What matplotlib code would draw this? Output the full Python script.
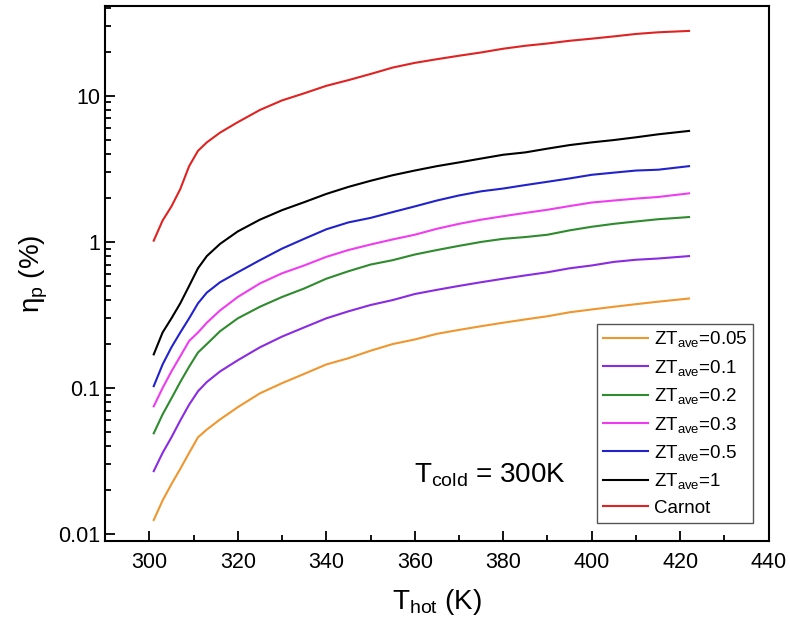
import matplotlib
matplotlib.use('Agg')
import matplotlib.pyplot as plt
from matplotlib.ticker import MultipleLocator, LogLocator, FuncFormatter, NullFormatter

plt.rcParams['font.family'] = ['Liberation Sans', 'DejaVu Sans']
plt.rcParams['mathtext.default'] = 'regular'

# hot side temperature (K)
t_hot = [301, 303, 305, 307, 309, 311, 313, 316, 320, 325, 330, 335, 340, 345, 350,
         355, 360, 365, 370, 375, 380, 385, 390, 395, 400, 405, 410, 415, 422]

# efficiencies (%)
eta_005 = [0.0125, 0.017, 0.022, 0.028, 0.036, 0.046, 0.052, 0.061, 0.074, 0.092, 0.108,
           0.125, 0.145, 0.16, 0.18, 0.20, 0.215, 0.235, 0.25, 0.265, 0.28, 0.295, 0.31,
           0.33, 0.345, 0.36, 0.375, 0.39, 0.41]
eta_01 = [0.027, 0.036, 0.046, 0.06, 0.077, 0.095, 0.11, 0.13, 0.155, 0.19, 0.225, 0.26,
          0.30, 0.335, 0.37, 0.40, 0.44, 0.47, 0.50, 0.53, 0.56, 0.59, 0.62, 0.66, 0.69,
          0.73, 0.755, 0.77, 0.80]
eta_02 = [0.049, 0.066, 0.085, 0.11, 0.14, 0.175, 0.20, 0.245, 0.30, 0.36, 0.42, 0.48,
          0.56, 0.63, 0.70, 0.75, 0.82, 0.88, 0.94, 1.00, 1.05, 1.08, 1.12, 1.20, 1.27,
          1.33, 1.38, 1.43, 1.48]
eta_03 = [0.075, 0.10, 0.13, 0.165, 0.21, 0.24, 0.28, 0.34, 0.42, 0.52, 0.61, 0.69, 0.79,
          0.88, 0.96, 1.04, 1.12, 1.23, 1.33, 1.42, 1.50, 1.58, 1.66, 1.76, 1.86, 1.92,
          1.98, 2.03, 2.15]
eta_05 = [0.103, 0.145, 0.19, 0.24, 0.30, 0.38, 0.45, 0.53, 0.62, 0.75, 0.90, 1.05, 1.22,
          1.36, 1.46, 1.60, 1.75, 1.92, 2.08, 2.22, 2.32, 2.45, 2.58, 2.72, 2.88, 2.98,
          3.08, 3.12, 3.30]
eta_1 = [0.17, 0.24, 0.30, 0.38, 0.50, 0.66, 0.80, 0.97, 1.18, 1.42, 1.65, 1.87, 2.13,
         2.38, 2.62, 2.86, 3.08, 3.30, 3.50, 3.72, 3.95, 4.10, 4.35, 4.60, 4.80, 4.98,
         5.20, 5.45, 5.75]
eta_carnot = [1.02, 1.4, 1.75, 2.3, 3.3, 4.2, 4.8, 5.6, 6.6, 8.0, 9.3, 10.4, 11.7, 12.8,
              14.1, 15.6, 16.8, 17.8, 18.8, 19.8, 21.0, 22.0, 22.8, 23.8, 24.6, 25.5,
              26.5, 27.2, 27.8]

labels = ['ZT$_{ave}$=0.05', 'ZT$_{ave}$=0.1', 'ZT$_{ave}$=0.2', 'ZT$_{ave}$=0.3',
          'ZT$_{ave}$=0.5', 'ZT$_{ave}$=1', 'Carnot']
colors = ['#f0962f', '#8a2be2', '#2e8b2e', '#f03cf0', '#2222cc', '#000000', '#e02222']
series = [eta_005, eta_01, eta_02, eta_03, eta_05, eta_1, eta_carnot]

fig = plt.figure(figsize=(7.9, 6.26), dpi=100)
ax = fig.add_axes([0.133, 0.136, 0.840, 0.854])

for y, c, lab in zip(series, colors, labels):
    ax.plot(t_hot, y, color=c, lw=1.5, label=lab)

ax.set_yscale('log')
ax.set_xlim(290, 440)
ax.set_ylim(0.009, 41)

ax.xaxis.set_major_locator(MultipleLocator(20))
ax.xaxis.set_minor_locator(MultipleLocator(10))
ax.yaxis.set_major_locator(LogLocator(base=10))
ax.yaxis.set_minor_locator(LogLocator(base=10, subs=range(2, 10)))
ax.yaxis.set_major_formatter(FuncFormatter(lambda v, p: '%g' % v))
ax.yaxis.set_minor_formatter(NullFormatter())

ax.tick_params(which='both', direction='in', top=False, right=False, width=1.3,
               labelsize=15.5)
ax.tick_params(which='major', length=7)
ax.tick_params(which='minor', length=4)
ax.tick_params(axis='x', pad=8)
for s in ax.spines.values():
    s.set_linewidth(1.5)

ax.set_xlabel('T$_{hot}$ (K)', fontsize=20, labelpad=10)
ax.set_ylabel('$\\eta_p$ (%)', fontsize=20, labelpad=6)

ax.text(0.465, 0.11, 'T$_{cold}$ = 300K', transform=ax.transAxes, fontsize=20)

leg = ax.legend(loc='lower right', bbox_to_anchor=(0.976, 0.034), fontsize=13.5,
                frameon=True, fancybox=False, edgecolor='#555555', framealpha=1,
                handlelength=2.4, handletextpad=0.3, labelspacing=0.45,
                borderpad=0.3, borderaxespad=0)
leg.get_frame().set_linewidth(1.0)

fig.savefig('out.png', dpi=100)
